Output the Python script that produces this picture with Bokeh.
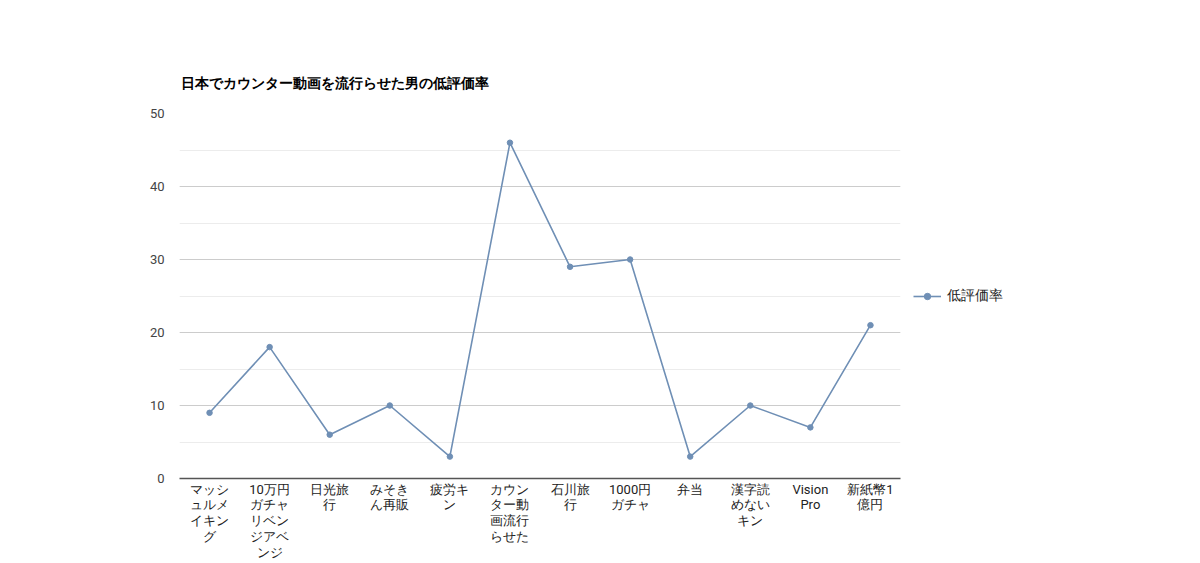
from bokeh.plotting import figure
from bokeh.models import ColumnDataSource, Legend, LegendItem, FactorRange, SingleIntervalTicker
from bokeh.embed import file_html
from bokeh.resources import INLINE

title = "日本でカウンター動画を流行らせた男の低評価率"
series_name = "低評価率"
categories = [
    "マッシ\nュルメ\nイキン\nグ",
    "10万円\nガチャ\nリベン\nジアベ\nンジ",
    "日光旅\n行",
    "みそき\nん再販",
    "疲労キ\nン",
    "カウン\nター動\n画流行\nらせた",
    "石川旅\n行",
    "1000円\nガチャ",
    "弁当",
    "漢字読\nめない\nキン",
    "Vision\nPro",
    "新紙幣1\n億円",
]
values = [9, 18, 6, 10, 3, 46, 29, 30, 3, 10, 7, 21]

FONT = "Roboto"
LINE = "#6f8fb5"

src = ColumnDataSource(dict(x=categories, y=values))

p = figure(frame_width=721, frame_height=365, x_range=FactorRange(*categories, range_padding=0),
           y_range=(0, 50), output_backend="svg", toolbar_location=None,
           min_border_left=179, min_border_right=0, min_border_top=113, min_border_bottom=80)
p.x_range.factor_padding = 0
p.outline_line_color = None

p.title.text = title
p.title.text_font = FONT
p.title.text_font_size = "14px"
p.title.text_font_style = "bold"
p.title.text_color = "#000000"
p.title.offset = 1
p.title.standoff = 46

r = p.line("x", "y", source=src, line_color=LINE, line_width=1.6)
c = p.scatter("x", "y", source=src, size=5.5, fill_color=LINE, line_color=LINE)

p.yaxis.ticker = SingleIntervalTicker(interval=10, num_minor_ticks=2)
p.yaxis.axis_line_color = None
p.yaxis.major_tick_line_color = None
p.yaxis.minor_tick_line_color = None
p.yaxis.major_label_text_font = FONT
p.yaxis.major_label_text_font_size = "13px"
p.yaxis.major_label_text_color = "#444444"
p.yaxis.major_label_standoff = 9

p.xaxis.axis_line_color = "#555555"
p.xaxis.axis_line_width = 1.5
p.xaxis.major_tick_line_color = None
p.xaxis.minor_tick_line_color = None
p.xaxis.major_tick_out = 0
p.xaxis.major_label_text_font = FONT
p.xaxis.major_label_text_font_size = "13px"
p.xaxis.major_label_text_color = "#222222"
p.xaxis.major_label_text_line_height = 1.06
p.xaxis.major_label_standoff = 3
p.xaxis.major_label_orientation = "horizontal"

p.xgrid.grid_line_color = None
p.ygrid.grid_line_color = "#cccccc"
p.ygrid.minor_grid_line_color = "#ececec"

legend = Legend(items=[LegendItem(label=series_name, renderers=[r, c])],
                location="center_left", padding=0, margin=13, spacing=0,
                border_line_color=None, background_fill_alpha=0,
                label_text_font=FONT, label_text_font_size="14px", label_text_color="#222222",
                glyph_width=28, glyph_height=16, label_standoff=6)
p.add_layout(legend, "right")

open("out.html", "w").write(file_html(p, INLINE))
